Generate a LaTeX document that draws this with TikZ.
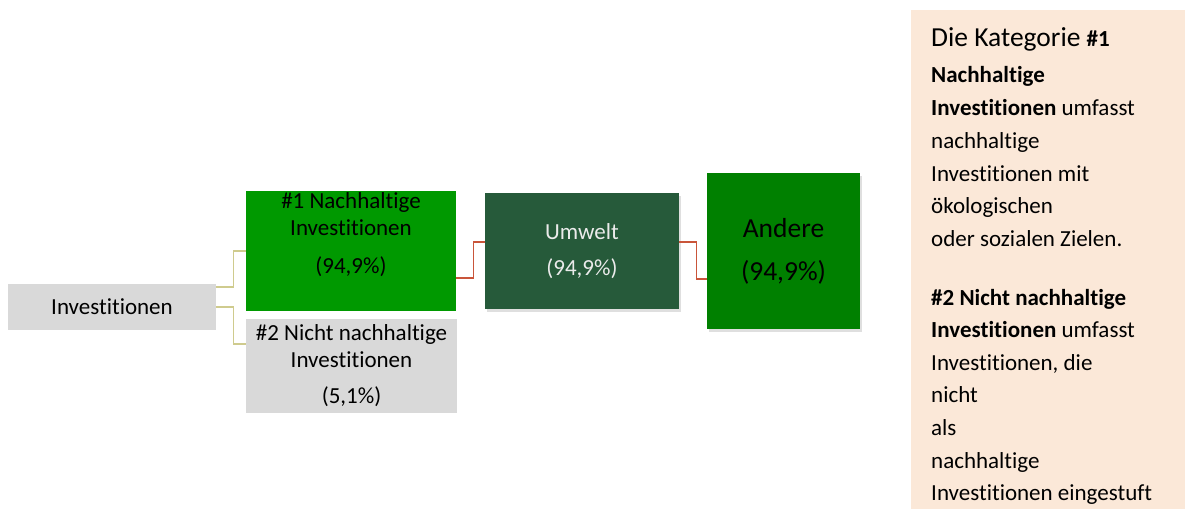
\documentclass[tikz,border=0pt]{standalone}
\usepackage{fontspec}
\setmainfont[Ligatures={NoCommon}]{Carlito}
\usetikzlibrary{shadows,calc}
\definecolor{greybox}{HTML}{D9D9D9}
\definecolor{greenA}{HTML}{009900}
\definecolor{greenB}{HTML}{265A3A}
\definecolor{greenC}{HTML}{008000}
\definecolor{panelbg}{HTML}{FBE8D8}
\definecolor{olivec}{HTML}{CFCB8E}
\definecolor{redc}{HTML}{C9553A}
\tikzset{
  box/.style={draw=none, inner sep=0pt, align=center, font=\fontsize{23}{27}\selectfont},
  shad/.style={drop shadow={shadow xshift=1.5pt, shadow yshift=-3pt, opacity=0.25}},
  conn1/.style={draw=olivec, line width=1.4pt},
  conn2/.style={draw=redc, line width=1.4pt},
  ptxt/.style={anchor=base west, inner sep=0pt, font=\fontsize{23}{27}\selectfont}
}
\begin{document}
\begin{tikzpicture}[x=1pt,y=-1pt]
\useasboundingbox (0,0) rectangle (1191,509);
% boxes
\node[box, fill=greybox, minimum width=208pt, minimum height=46pt] (inv) at (112,307) {Investitionen};
\node[box, fill=greenA, minimum width=210pt, minimum height=120pt] (n1) at (351,251) {};
\node[box] (n1t) at (351,235) {\#1 Nachhaltige\\Investitionen\\[11pt](94,9\%)};
\node[box, fill=greybox, minimum width=211pt, minimum height=94pt] (n2) at (351.5,366) {\#2 Nicht nachhaltige\\Investitionen\\[9pt](5,1\%)};
\node[box, shad, fill=greenB, text=white!92!black, minimum width=194pt, minimum height=116pt, font=\fontsize{23}{36}\selectfont] (um) at (582,251) {Umwelt\\(94,9\%)};
\node[box, shad, fill=greenC, minimum width=153pt, minimum height=156pt, font=\fontsize{27.5}{43}\selectfont] (an) at (783.5,251) {Andere\\(94,9\%)};
% connectors
\draw[conn1] ([yshift=20pt]inv.east) -- ++(17,0) |- (n1.west);
\draw[conn1] (inv.east) -- ++(17,0) |- ([yshift=22pt]n2.west);
\draw[conn2] ([yshift=-27pt]n1.east) -- ++(17,0) |- ([yshift=9pt]um.west);
\draw[conn2] ([yshift=9pt]um.east) -- ++(17,0) |- ([yshift=-28pt]an.west);
% panel
\fill[panelbg] (911,10) rectangle (1185,509);
\node[ptxt, font=\fontsize{27.5}{30}\selectfont] (p1) at (931,46.7) {Die Kategorie {\fontsize{23}{27}\selectfont\bfseries\#1}};
\node[ptxt] (p2) at (931,82.7) {\textbf{Nachhaltige}};
\node[ptxt] (p3) at (931,115.5) {\textbf{Investitionen} umfasst};
\node[ptxt] (p4) at (931,148.3) {nachhaltige};
\node[ptxt] (p5) at (931,181.1) {Investitionen mit};
\node[ptxt] (p6) at (931,213.9) {ökologischen};
\node[ptxt] (p7) at (931,246.7) {oder sozialen Zielen.};
\node[ptxt] (p8) at (931,305) {\textbf{\#2 Nicht nachhaltige}};
\node[ptxt] (p9) at (931,337.5) {\textbf{Investitionen} umfasst};
\node[ptxt] (p10) at (931,370) {Investitionen, die};
\node[ptxt] (p11) at (931,402.7) {nicht};
\node[ptxt] (p12) at (931,435.5) {als};
\node[ptxt] (p13) at (931,468) {nachhaltige};
\node[ptxt] (p14) at (931,500.5) {Investitionen eingestuft};
\end{tikzpicture}
\end{document}
